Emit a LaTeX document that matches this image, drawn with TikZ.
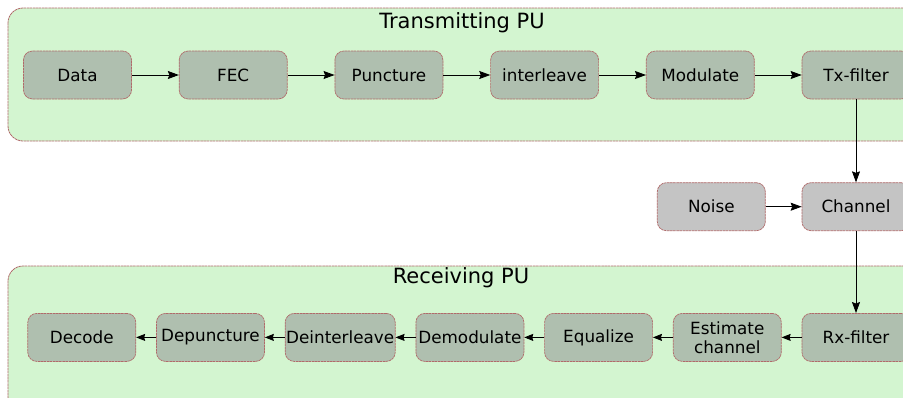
\documentclass[tikz,border=0pt]{standalone}
\usepackage{fontspec}
\setmainfont{DejaVu Sans}
\usepackage{xcolor}
\definecolor{PuFill}{HTML}{D3F5D0}
\definecolor{PuEdge}{HTML}{B06A6A}
\definecolor{BlockFill}{HTML}{AFBFAF}
\definecolor{MediumFill}{HTML}{C4C4C4}
\usetikzlibrary{arrows.meta,positioning}
\tikzstyle{puBox}=[rounded corners=15pt, draw=PuEdge, fill=PuFill,
  line width=0.8pt, dash pattern=on 2.5pt off 0.6pt]
\tikzstyle{puTitle}=[font=\fontsize{21}{24}\selectfont]
\tikzstyle{blockNode}=[rectangle, rounded corners=9pt, draw=PuEdge, fill=BlockFill,
  line width=0.7pt, dash pattern=on 2.5pt off 0.6pt, minimum width=108pt,
  minimum height=48pt, inner sep=1pt, align=center,
  font=\fontsize{16.8}{19}\selectfont]
\tikzstyle{mediumNode}=[blockNode, fill=MediumFill]
\tikzstyle{arr}=[-{Stealth[length=11pt,width=8pt,inset=1.5pt]}, line width=0.8pt]
\tikzstyle{arrSmall}=[-{Stealth[length=9pt,width=7pt,inset=1pt]}, line width=0.8pt]

\begin{document}
\begin{tikzpicture}[x=1pt,y=-1pt]
\clip (0,0) rectangle (903,397);
\fill[white] (0,0) rectangle (903,397);
% processing units
\draw[puBox] (8,8) rectangle (918,141);
\draw[puBox] (8,266) rectangle (918,412);
\node[puTitle] (txTitle) at (462,23) {Transmitting PU};
\node[puTitle] (rxTitle) at (461,278) {Receiving PU};
% transmitter chain
\node[blockNode] (data) at (77.5,75) {Data};
\node[blockNode, right=47pt of data] (fec) {FEC};
\node[blockNode, right=47pt of fec] (punct) {Puncture};
\node[blockNode, right=47pt of punct] (intl) {interleave};
\node[blockNode, right=47pt of intl] (mod) {Modulate};
\node[blockNode, right=47pt of mod] (txf) {Tx-filter};
% channel
\node[mediumNode, below=83pt of txf] (chan) {Channel};
\node[mediumNode, left=36pt of chan] (noise) {Noise};
% receiver chain
\node[blockNode, below=82pt of chan] (rxf) {Rx-filter};
\node[blockNode, left=20pt of rxf] (est) {Estimate\\channel};
\node[blockNode, left=20pt of est] (equ) {Equalize};
\node[blockNode, left=20pt of equ] (demod) {Demodulate};
\node[blockNode, left=20pt of demod] (deint) {Deinterleave};
\node[blockNode, left=20pt of deint] (depunct) {Depuncture};
\node[blockNode, left=20pt of depunct] (dec) {Decode};
\draw[arr] (data) -- (fec);
\draw[arr] (fec) -- (punct);
\draw[arr] (punct) -- (intl);
\draw[arr] (intl) -- (mod);
\draw[arr] (mod) -- (txf);
\draw[arr] (txf) -- (chan);
\draw[arr] (noise) -- (chan);
\draw[arr] (chan) -- (rxf);
\draw[arrSmall] (rxf) -- (est);
\draw[arrSmall] (est) -- (equ);
\draw[arrSmall] (equ) -- (demod);
\draw[arrSmall] (demod) -- (deint);
\draw[arrSmall] (deint) -- (depunct);
\draw[arrSmall] (depunct) -- (dec);
\end{tikzpicture}
\end{document}
